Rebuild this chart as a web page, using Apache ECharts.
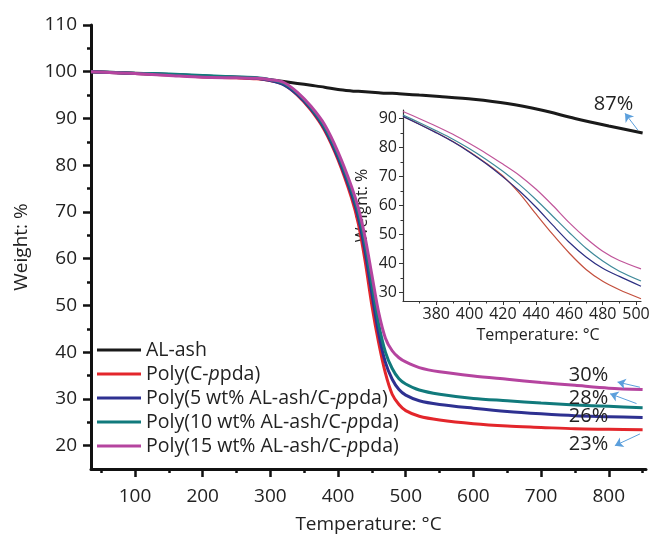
<!DOCTYPE html>
<html>
<head>
<meta charset="utf-8">
<script src="https://cdn.jsdelivr.net/npm/echarts@6/dist/echarts.min.js"></script>
<style>
  html, body { margin: 0; padding: 0; background: #fff; }
  #main { width: 652px; height: 539px; }
</style>
</head>
<body>
<div id="main"></div>
<script>
// main TGA curves
var temps = [35, 100, 150, 200, 250, 280, 300, 320, 340, 360, 380, 400, 420, 430, 440, 450, 460, 470, 480, 490, 500, 520, 550, 600, 650, 700, 750, 800, 850];
var alAsh = [100, 99.7, 99.4, 99.1, 98.8, 98.6, 98.3, 97.9, 97.5, 97.1, 96.7, 96.2, 95.9, 95.8, 95.7, 95.6, 95.5, 95.4, 95.4, 95.3, 95.2, 95.0, 94.7, 94.1, 93.2, 91.8, 90.0, 88.4, 86.9];
var polyC = [100, 99.6, 99.3, 98.9, 98.7, 98.5, 98.1, 97.3, 95.0, 91.8, 87.5, 81.2, 73.0, 67.5, 59.5, 50.0, 42.0, 35.5, 31.0, 28.8, 27.5, 26.3, 25.5, 24.7, 24.2, 23.9, 23.6, 23.5, 23.4];
var poly5 = [100, 99.6, 99.4, 99.1, 98.8, 98.6, 98.1, 97.2, 95.1, 92.0, 87.8, 81.6, 73.8, 68.8, 61.5, 52.5, 44.0, 37.8, 34.2, 32.0, 30.8, 29.6, 28.8, 28.0, 27.3, 26.8, 26.4, 26.2, 26.0];
var poly10 = [100, 99.7, 99.5, 99.2, 98.9, 98.7, 98.3, 97.5, 95.4, 92.3, 88.2, 82.2, 74.6, 69.8, 63.0, 54.5, 46.0, 40.0, 36.5, 34.3, 33.2, 31.9, 31.0, 30.1, 29.6, 29.1, 28.7, 28.4, 28.1];
var poly15 = [100, 99.6, 99.2, 98.8, 98.7, 98.6, 98.3, 97.7, 95.6, 92.6, 88.7, 82.8, 75.4, 70.8, 64.5, 56.5, 48.5, 43.0, 40.3, 38.8, 37.9, 36.7, 35.8, 34.9, 34.2, 33.5, 32.9, 32.3, 32.0];

// inset (360-500 °C zoom)
var insetTemps = [360, 370, 380, 390, 400, 410, 420, 430, 440, 450, 460, 470, 480, 490, 503];
var insetC = [90.8, 88.1, 85.2, 82.1, 78.6, 74.6, 70.2, 64.2, 57.0, 50.0, 43.5, 37.9, 33.8, 30.9, 27.8];
var inset5 = [90.8, 88.0, 85.1, 82.0, 78.4, 74.4, 69.9, 65.0, 59.4, 53.2, 47.2, 42.2, 38.3, 35.5, 32.1];
var inset10 = [91.3, 88.6, 85.8, 82.9, 79.6, 75.9, 71.8, 67.2, 62.0, 56.3, 50.6, 45.2, 40.8, 37.3, 33.9];
var inset15 = [92.5, 90.0, 87.4, 84.6, 81.4, 78.0, 74.3, 70.4, 65.6, 60.0, 54.0, 48.7, 44.2, 41.0, 38.1];

var names = ['AL-ash', 'Poly(C-ppda)', 'Poly(5 wt% AL-ash/C-ppda)', 'Poly(10 wt% AL-ash/C-ppda)', 'Poly(15 wt% AL-ash/C-ppda)'];
var colors = ['#1a1a1a', '#e3262b', '#2e3191', '#117a7c', '#b5449f'];
var insetColors = ['#c4503e', '#2c2f82', '#3f8a9a', '#c0559a'];

// tick values
var xMajor = [100, 200, 300, 400, 500, 600, 700, 800];
var xMinor = [50, 150, 250, 350, 450, 550, 650, 750, 850];
var yMajor = [20, 30, 40, 50, 60, 70, 80, 90, 100, 110];
var yMinor = [25, 35, 45, 55, 65, 75, 85, 95, 105];
var inXMajor = [380, 400, 420, 440, 460, 480, 500];
var inXMinor = [370, 390, 410, 430, 450, 470, 490];
var inYMajor = [30, 40, 50, 60, 70, 80, 90];
var inYMinor = [35, 45, 55, 65, 75, 85];

// residue labels: [text, T, weight] and arrows [fromT, fromW, toT, toW]
var residues = [['87%', 807, 93.0], ['30%', 770, 35.0], ['28%', 770, 30.1], ['26%', 770, 26.2], ['23%', 770, 20.2]];
var arrows = [[843, 87.5, 824, 91.1], [846, 32.5, 813, 33.6], [841, 29.0, 802, 31.1], [846, 22.5, 809, 20.0]];

var FONT = 'Open Sans';
var TXT = '#222';

function pairs(xs, vals) {
    return xs.map(function (t, i) { return [t, vals[i]]; });
}

var mainVals = [alAsh, polyC, poly5, poly10, poly15];
var insetVals = [insetC, inset5, inset10, inset15];

var series = [];
mainVals.forEach(function (v, i) {
    series.push({
        name: names[i],
        type: 'line',
        xAxisIndex: 0, yAxisIndex: 0,
        data: pairs(temps, v),
        smooth: 0.3,
        showSymbol: false,
        lineStyle: { color: colors[i], width: 3 },
        itemStyle: { color: colors[i] },
        z: 3
    });
});
insetVals.forEach(function (v, i) {
    series.push({
        name: 'inset-' + i,
        type: 'line',
        xAxisIndex: 2, yAxisIndex: 2,
        data: pairs(insetTemps, v),
        smooth: 0.3,
        showSymbol: false,
        clip: true,
        lineStyle: { color: insetColors[i], width: 1.2 },
        z: 3
    });
});
// residue annotations
series.push({
    name: 'notes',
    type: 'line',
    xAxisIndex: 0, yAxisIndex: 0,
    data: [],
    markPoint: {
        silent: true,
        symbol: 'circle',
        symbolSize: 0,
        label: { show: true, position: 'inside', color: TXT, fontFamily: FONT, fontSize: 20 },
        data: residues.map(function (r) {
            return { coord: [r[1], r[2]], label: { formatter: r[0] } };
        })
    },
    markLine: {
        silent: true,
        symbol: ['none', 'arrow'],
        symbolSize: 8,
        label: { show: false },
        lineStyle: { color: '#5b9fdc', width: 1, type: 'solid' },
        data: arrows.map(function (a) {
            return [{ coord: [a[0], a[1]] }, { coord: [a[2], a[3]] }];
        })
    }
});

function axisBase(extra) {
    var o = {
        type: 'value',
        splitLine: { show: false },
        axisLine: { show: true, onZero: false, lineStyle: { color: '#111', width: 3 } }
    };
    for (var key in extra) o[key] = extra[key];
    return o;
}

var option = {
    animation: false,
    backgroundColor: '#fff',
    grid: [
        { left: 91, top: 25, width: 555, height: 444, outerBoundsMode: 'none' },
        { left: 403, top: 110, width: 238, height: 191, outerBoundsMode: 'none' }
    ],
    legend: {
        orient: 'vertical',
        left: 97, top: 339,
        padding: 0,
        itemWidth: 44, itemHeight: 3, itemGap: 2,
        icon: 'rect',
        data: names,
        formatter: function (name) { return name.replace('C-ppda', 'C-{i|p}pda'); },
        textStyle: {
            fontFamily: FONT, fontSize: 19.5, color: TXT, lineHeight: 22,
            rich: { i: { fontFamily: FONT, fontSize: 19.5, fontStyle: 'italic', color: TXT, lineHeight: 22 } }
        }
    },
    xAxis: [
        axisBase({
            gridIndex: 0, min: 35, max: 855, position: 'bottom',
            name: 'Temperature: °C', nameLocation: 'middle', nameGap: 46,
            nameTextStyle: { fontFamily: FONT, fontSize: 19, color: TXT },
            axisTick: { show: true, length: 8, customValues: xMajor, lineStyle: { color: '#111', width: 2.5 } },
            axisLabel: { customValues: xMajor, margin: 18, fontFamily: FONT, fontSize: 19, color: TXT }
        }),
        axisBase({
            gridIndex: 0, min: 35, max: 855, position: 'bottom',
            axisLine: { show: false },
            axisTick: { show: true, length: 4, customValues: xMinor, lineStyle: { color: '#111', width: 2.5 } },
            axisLabel: { show: false }
        }),
        axisBase({
            gridIndex: 1, min: 360, max: 503, position: 'bottom',
            name: 'Temperature: °C', nameLocation: 'middle', nameGap: 26,
            nameTextStyle: { fontFamily: FONT, fontSize: 16, color: TXT, padding: [0, 0, 0, 32] },
            axisLine: { show: true, onZero: false, lineStyle: { color: '#333', width: 1.2 } },
            axisTick: { show: true, length: 4, customValues: inXMajor, lineStyle: { color: '#333', width: 1 } },
            axisLabel: { customValues: inXMajor, margin: 5, fontFamily: FONT, fontSize: 16, color: TXT }
        }),
        axisBase({
            gridIndex: 1, min: 360, max: 503, position: 'bottom',
            axisLine: { show: false },
            axisTick: { show: true, length: 2.5, customValues: inXMinor, lineStyle: { color: '#333', width: 1 } },
            axisLabel: { show: false }
        })
    ],
    yAxis: [
        axisBase({
            gridIndex: 0, min: 15, max: 110, position: 'left',
            name: 'Weight: %', nameLocation: 'middle', nameGap: 60,
            nameTextStyle: { fontFamily: FONT, fontSize: 19, color: TXT },
            axisTick: { show: true, length: 8, customValues: yMajor, lineStyle: { color: '#111', width: 2.5 } },
            axisLabel: { customValues: yMajor, margin: 14, fontFamily: FONT, fontSize: 19, color: TXT }
        }),
        axisBase({
            gridIndex: 0, min: 15, max: 110, position: 'left',
            axisLine: { show: false },
            axisTick: { show: true, length: 4, customValues: yMinor, lineStyle: { color: '#111', width: 2.5 } },
            axisLabel: { show: false }
        }),
        axisBase({
            gridIndex: 1, min: 27, max: 93, position: 'left',
            name: 'Weight: %', nameLocation: 'middle', nameGap: 33,
            nameTextStyle: { fontFamily: FONT, fontSize: 16, color: TXT },
            axisLine: { show: true, onZero: false, lineStyle: { color: '#333', width: 1.2 } },
            axisTick: { show: true, length: 4, customValues: inYMajor, lineStyle: { color: '#333', width: 1 } },
            axisLabel: { customValues: inYMajor, margin: 6, fontFamily: FONT, fontSize: 16, color: TXT }
        }),
        axisBase({
            gridIndex: 1, min: 27, max: 93, position: 'left',
            axisLine: { show: false },
            axisTick: { show: true, length: 2.5, customValues: inYMinor, lineStyle: { color: '#333', width: 1 } },
            axisLabel: { show: false }
        })
    ],
    series: series
};

var myChart = echarts.init(document.getElementById('main'));
myChart.setOption(option);
</script>
</body>
</html>
